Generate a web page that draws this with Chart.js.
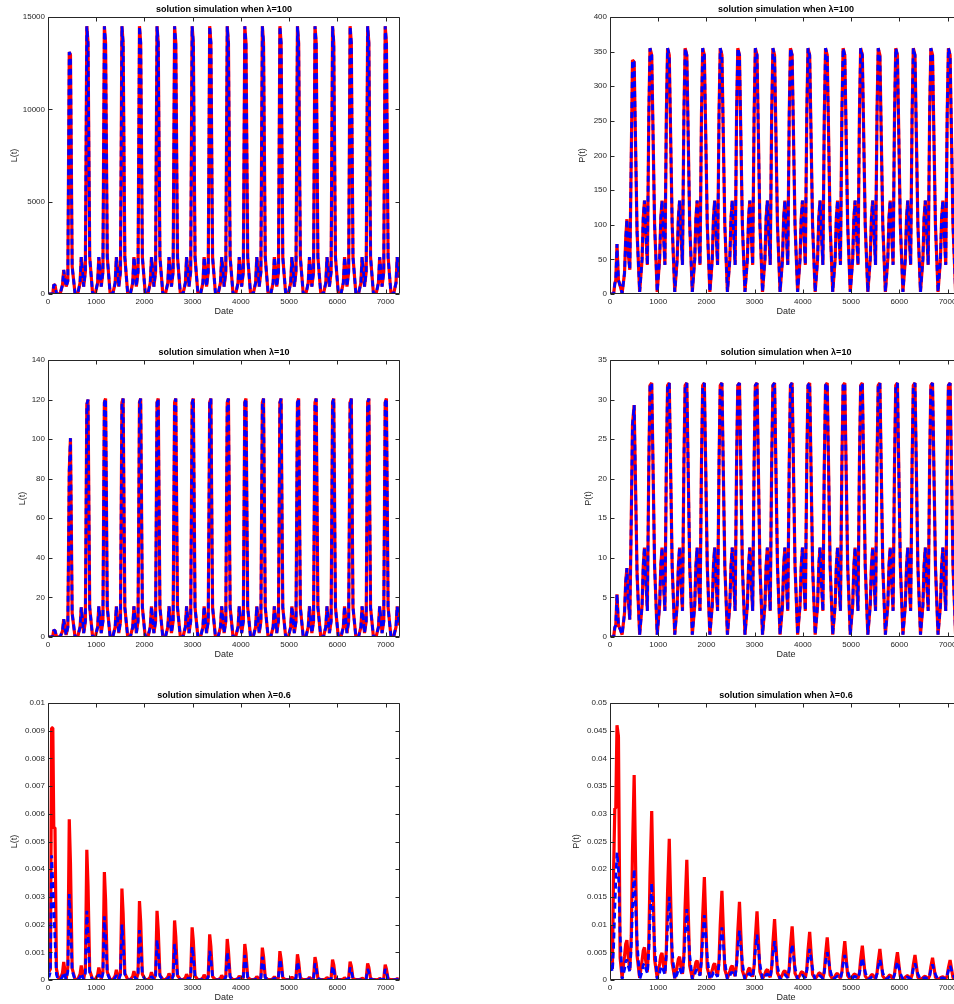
<!DOCTYPE html>
<html>
<head>
<meta charset="utf-8">
<script src="https://cdn.jsdelivr.net/npm/chart.js@4.4.1/dist/chart.umd.min.js"></script>
<style>
  html, body { margin: 0; padding: 0; width: 954px; height: 1004px; overflow: hidden; background: #fff; }
  .panel { position: absolute; width: 420px; height: 320px; }
</style>
</head>
<body>
<div class="panel" style="left:0;top:0"><canvas id="c1" width="420" height="320"></canvas></div>
<div class="panel" style="left:560px;top:0"><canvas id="c2" width="420" height="320"></canvas></div>
<div class="panel" style="left:0;top:343px"><canvas id="c3" width="420" height="320"></canvas></div>
<div class="panel" style="left:560px;top:343px"><canvas id="c4" width="420" height="320"></canvas></div>
<div class="panel" style="left:0;top:686px"><canvas id="c5" width="420" height="320"></canvas></div>
<div class="panel" style="left:560px;top:686px"><canvas id="c6" width="420" height="320"></canvas></div>
<script>
const xTicks = [0, 1000, 2000, 3000, 4000, 5000, 6000, 7000];

// key days: start-up, then one row per yearly cycle
const days = [
  0, 20, 50, 75, 100, 120, 145, 175, 210,
  251, 301, 326, 351, 376, 411, 441, 466, 501, 561,
  615, 665, 690, 715, 740, 775, 805, 830, 865, 925,
  979, 1029, 1054, 1079, 1104, 1139, 1169, 1194, 1229, 1289,
  1343, 1393, 1418, 1443, 1468, 1503, 1533, 1558, 1593, 1653,
  1707, 1757, 1782, 1807, 1832, 1867, 1897, 1922, 1957, 2017,
  2071, 2121, 2146, 2171, 2196, 2231, 2261, 2286, 2321, 2381,
  2435, 2485, 2510, 2535, 2560, 2595, 2625, 2650, 2685, 2745,
  2799, 2849, 2874, 2899, 2924, 2959, 2989, 3014, 3049, 3109,
  3163, 3213, 3238, 3263, 3288, 3323, 3353, 3378, 3413, 3473,
  3527, 3577, 3602, 3627, 3652, 3687, 3717, 3742, 3777, 3837,
  3891, 3941, 3966, 3991, 4016, 4051, 4081, 4106, 4141, 4201,
  4255, 4305, 4330, 4355, 4380, 4415, 4445, 4470, 4505, 4565,
  4619, 4669, 4694, 4719, 4744, 4779, 4809, 4834, 4869, 4929,
  4983, 5033, 5058, 5083, 5108, 5143, 5173, 5198, 5233, 5293,
  5347, 5397, 5422, 5447, 5472, 5507, 5537, 5562, 5597, 5657,
  5711, 5761, 5786, 5811, 5836, 5871, 5901, 5926, 5961, 6021,
  6075, 6125, 6150, 6175, 6200, 6235, 6265, 6290, 6325, 6385,
  6439, 6489, 6514, 6539, 6564, 6599, 6629, 6654, 6689, 6749,
  6803, 6853, 6878, 6903, 6928, 6963, 6993, 7018, 7053, 7113,
  7167, 7217, 7242, 7267, 7292, 7327
];

// lambda = 100 (red and blue overlap)
const L100 = [
  0, 0, 0, 0, 20, 500, 480, 30, 0,
  0, 500, 1300, 800, 400, 700, 13100, 12950, 1500, 20,
  0, 600, 2000, 1300, 400, 1200, 14500, 13600, 2000, 20,
  0, 600, 2000, 1300, 400, 1200, 14500, 13600, 2000, 20,
  0, 600, 2000, 1300, 400, 1200, 14500, 13600, 2000, 20,
  0, 600, 2000, 1300, 400, 1200, 14500, 13600, 2000, 20,
  0, 600, 2000, 1300, 400, 1200, 14500, 13600, 2000, 20,
  0, 600, 2000, 1300, 400, 1200, 14500, 13600, 2000, 20,
  0, 600, 2000, 1300, 400, 1200, 14500, 13600, 2000, 20,
  0, 600, 2000, 1300, 400, 1200, 14500, 13600, 2000, 20,
  0, 600, 2000, 1300, 400, 1200, 14500, 13600, 2000, 20,
  0, 600, 2000, 1300, 400, 1200, 14500, 13600, 2000, 20,
  0, 600, 2000, 1300, 400, 1200, 14500, 13600, 2000, 20,
  0, 600, 2000, 1300, 400, 1200, 14500, 13600, 2000, 20,
  0, 600, 2000, 1300, 400, 1200, 14500, 13600, 2000, 20,
  0, 600, 2000, 1300, 400, 1200, 14500, 13600, 2000, 20,
  0, 600, 2000, 1300, 400, 1200, 14500, 13600, 2000, 20,
  0, 600, 2000, 1300, 400, 1200, 14500, 13600, 2000, 20,
  0, 600, 2000, 1300, 400, 1200, 14500, 13600, 2000, 20,
  0, 600, 2000, 1300, 400, 1200, 14500, 13600, 2000, 20,
  0, 600, 2000, 1300, 900, 1500
];
const P100 = [
  0, 0, 0, 0, 15, 20, 72, 20, 12,
  1, 30, 80, 108, 60, 35, 200, 338, 335, 90,
  3, 50, 110, 135, 95, 42, 260, 355, 345, 100,
  3, 50, 110, 135, 95, 42, 260, 355, 345, 100,
  3, 50, 110, 135, 95, 42, 260, 355, 345, 100,
  3, 50, 110, 135, 95, 42, 260, 355, 345, 100,
  3, 50, 110, 135, 95, 42, 260, 355, 345, 100,
  3, 50, 110, 135, 95, 42, 260, 355, 345, 100,
  3, 50, 110, 135, 95, 42, 260, 355, 345, 100,
  3, 50, 110, 135, 95, 42, 260, 355, 345, 100,
  3, 50, 110, 135, 95, 42, 260, 355, 345, 100,
  3, 50, 110, 135, 95, 42, 260, 355, 345, 100,
  3, 50, 110, 135, 95, 42, 260, 355, 345, 100,
  3, 50, 110, 135, 95, 42, 260, 355, 345, 100,
  3, 50, 110, 135, 95, 42, 260, 355, 345, 100,
  3, 50, 110, 135, 95, 42, 260, 355, 345, 100,
  3, 50, 110, 135, 95, 42, 260, 355, 345, 100,
  3, 50, 110, 135, 95, 42, 260, 355, 345, 100,
  3, 50, 110, 135, 95, 42, 260, 355, 345, 100,
  3, 50, 110, 135, 95, 42, 260, 355, 345, 100,
  3, 50, 110, 135, 95, 42
];

// lambda = 10 (red and blue overlap)
const L10 = [
  0, 0, 0, 0, 0.5, 3.5, 3.2, 0.3, 0,
  0, 3, 9, 5, 1, 5, 84, 100.5, 12, 0,
  0, 5, 15, 9, 2, 8, 117.5, 120, 15, 0,
  0, 5, 15.5, 9, 2, 8, 118.5, 120.5, 15, 0,
  0, 5, 15.5, 9, 2, 8, 118.5, 120.5, 15, 0,
  0, 5, 15.5, 9, 2, 8, 118.5, 120.5, 15, 0,
  0, 5, 15.5, 9, 2, 8, 118.5, 120.5, 15, 0,
  0, 5, 15.5, 9, 2, 8, 118.5, 120.5, 15, 0,
  0, 5, 15.5, 9, 2, 8, 118.5, 120.5, 15, 0,
  0, 5, 15.5, 9, 2, 8, 118.5, 120.5, 15, 0,
  0, 5, 15.5, 9, 2, 8, 118.5, 120.5, 15, 0,
  0, 5, 15.5, 9, 2, 8, 118.5, 120.5, 15, 0,
  0, 5, 15.5, 9, 2, 8, 118.5, 120.5, 15, 0,
  0, 5, 15.5, 9, 2, 8, 118.5, 120.5, 15, 0,
  0, 5, 15.5, 9, 2, 8, 118.5, 120.5, 15, 0,
  0, 5, 15.5, 9, 2, 8, 118.5, 120.5, 15, 0,
  0, 5, 15.5, 9, 2, 8, 118.5, 120.5, 15, 0,
  0, 5, 15.5, 9, 2, 8, 118.5, 120.5, 15, 0,
  0, 5, 15.5, 9, 2, 8, 118.5, 120.5, 15, 0,
  0, 5, 15.5, 9, 2, 8, 118.5, 120.5, 15, 0,
  0, 5, 15.5, 9, 6, 8
];
const P10 = [
  0, 0, 0, 0, 1.2, 1.5, 5.4, 1.5, 1,
  0.3, 3, 7, 8.7, 5, 2.2, 15, 26.8, 29.3, 8,
  0.3, 4, 9, 11.3, 7.5, 3.3, 22, 31.8, 32.1, 9,
  0.3, 4, 9, 11.3, 7.5, 3.3, 22, 31.8, 32.1, 9,
  0.3, 4, 9, 11.3, 7.5, 3.3, 22, 31.8, 32.1, 9,
  0.3, 4, 9, 11.3, 7.5, 3.3, 22, 31.8, 32.1, 9,
  0.3, 4, 9, 11.3, 7.5, 3.3, 22, 31.8, 32.1, 9,
  0.3, 4, 9, 11.3, 7.5, 3.3, 22, 31.8, 32.1, 9,
  0.3, 4, 9, 11.3, 7.5, 3.3, 22, 31.8, 32.1, 9,
  0.3, 4, 9, 11.3, 7.5, 3.3, 22, 31.8, 32.1, 9,
  0.3, 4, 9, 11.3, 7.5, 3.3, 22, 31.8, 32.1, 9,
  0.3, 4, 9, 11.3, 7.5, 3.3, 22, 31.8, 32.1, 9,
  0.3, 4, 9, 11.3, 7.5, 3.3, 22, 31.8, 32.1, 9,
  0.3, 4, 9, 11.3, 7.5, 3.3, 22, 31.8, 32.1, 9,
  0.3, 4, 9, 11.3, 7.5, 3.3, 22, 31.8, 32.1, 9,
  0.3, 4, 9, 11.3, 7.5, 3.3, 22, 31.8, 32.1, 9,
  0.3, 4, 9, 11.3, 7.5, 3.3, 22, 31.8, 32.1, 9,
  0.3, 4, 9, 11.3, 7.5, 3.3, 22, 31.8, 32.1, 9,
  0.3, 4, 9, 11.3, 7.5, 3.3, 22, 31.8, 32.1, 9,
  0.3, 4, 9, 11.3, 7.5, 3.3, 22, 31.8, 32.1, 9,
  0.3, 4, 9, 11.3, 7.5, 3.3
];

// lambda = 0.6, red (solid) and blue (dashed) differ
const L06red = [
  0.001, 0.0003, 0.0004, 0.0091, 0.0091, 0.0055, 0.0055, 0.0004, 0.0001,
  0.00001, 0.00026, 0.00065, 0.00033, 0.00003, 0.00046, 0.0058, 0.0042, 0.00042, 0.00002,
  0.00001, 0.00021, 0.00052, 0.00026, 0.00003, 0.00038, 0.0047, 0.0034, 0.00034, 0.00002,
  0.00001, 0.00018, 0.00045, 0.00023, 0.00003, 0.00031, 0.0039, 0.0029, 0.00029, 0.00002,
  0.00001, 0.00015, 0.00037, 0.00019, 0.00003, 0.00026, 0.0033, 0.0024, 0.00024, 0.00002,
  0.00001, 0.00013, 0.00032, 0.00016, 0.00003, 0.00023, 0.00285, 0.0021, 0.00021, 0.00002,
  0.00001, 0.00011, 0.00028, 0.00014, 0.00003, 0.0002, 0.0025, 0.0018, 0.00018, 0.00002,
  0.00001, 0.0001, 0.00024, 0.00012, 0.00003, 0.00017, 0.00215, 0.00157, 0.00016, 0.00002,
  0.00001, 0.00008, 0.00021, 0.00011, 0.00002, 0.00015, 0.0019, 0.0014, 0.00014, 0.00001,
  0.00001, 0.00008, 0.00019, 0.0001, 0.00002, 0.00013, 0.00165, 0.0012, 0.00012, 0.00001,
  0.00001, 0.00007, 0.00017, 0.00009, 0.00002, 0.00012, 0.00148, 0.00105, 0.00011, 0.00001,
  0.00001, 0.00006, 0.00015, 0.00008, 0.00002, 0.0001, 0.0013, 0.00095, 0.0001, 0.00001,
  0.00001, 0.00005, 0.00013, 0.00007, 0.00002, 0.00009, 0.00117, 0.00085, 0.00009, 0.00001,
  0.00001, 0.00005, 0.00012, 0.00006, 0.00002, 0.00008, 0.00104, 0.00075, 0.00008, 0.00001,
  0.00001, 0.00004, 0.00011, 0.00006, 0.00002, 0.00007, 0.00093, 0.00066, 0.00007, 0.00001,
  0.00001, 0.00004, 0.0001, 0.00005, 0.00002, 0.00007, 0.00083, 0.0006, 0.00006, 0.00001,
  0.00001, 0.00004, 0.00009, 0.00005, 0.00002, 0.00006, 0.00074, 0.00055, 0.00006, 0.00001,
  0.00001, 0.00003, 0.00008, 0.00004, 0.00002, 0.00005, 0.00066, 0.0005, 0.00005, 0.00001,
  0.00001, 0.00003, 0.00007, 0.00004, 0.00002, 0.00005, 0.0006, 0.00045, 0.00005, 0.00001,
  0.00001, 0.00002, 0.00006, 0.00003, 0.00001, 0.00004, 0.00055, 0.0004, 0.00004, 0.00001,
  0.00001, 0.00002, 0.00005, 0.00003, 0.00001, 0.00003
];
const L06blue = [
  0.0005, 0.0001, 0.0003, 0.0045, 0.0035, 0.0026, 0.0015, 0.0002, 0.00002,
  0, 0.00011, 0.00028, 0.00017, 0.00002, 0.00031, 0.0031, 0.0022, 0.00033, 0,
  0, 0.0001, 0.00024, 0.00014, 0.00002, 0.00025, 0.0025, 0.0017, 0.00026, 0,
  0, 0.00008, 0.0002, 0.00012, 0.00002, 0.00023, 0.0023, 0.0016, 0.00024, 0,
  0, 0.00007, 0.00017, 0.0001, 0.00002, 0.0002, 0.002, 0.0014, 0.00021, 0,
  0, 0.00006, 0.00015, 0.00009, 0.00002, 0.00018, 0.0018, 0.0013, 0.0002, 0,
  0, 0.00005, 0.00013, 0.00008, 0.00001, 0.00015, 0.00145, 0.001, 0.00015, 0,
  0, 0.00004, 0.00011, 0.00007, 0.00001, 0.00013, 0.0013, 0.0009, 0.00014, 0,
  0, 0.00004, 0.0001, 0.00006, 0.00001, 0.00012, 0.0012, 0.00085, 0.00013, 0,
  0, 0.00004, 0.00009, 0.00005, 0.00001, 0.0001, 0.00105, 0.00075, 0.00011, 0,
  0, 0.00003, 0.00008, 0.00005, 0.00001, 0.0001, 0.001, 0.0007, 0.00011, 0,
  0, 0.00003, 0.00007, 0.00004, 0.00001, 0.00009, 0.0009, 0.00063, 0.0001, 0,
  0, 0.00002, 0.00006, 0.00004, 0.00001, 0.00008, 0.00084, 0.0006, 0.00009, 0,
  0, 0.00002, 0.00006, 0.00004, 0.00001, 0.00008, 0.00075, 0.00053, 0.00008, 0,
  0, 0.00002, 0.00005, 0.00003, 0.00001, 0.00007, 0.00066, 0.00047, 0.00007, 0,
  0, 0.00002, 0.00005, 0.00003, 0.00001, 0.00006, 0.0006, 0.00042, 0.00006, 0,
  0, 0.00002, 0.00004, 0.00002, 0.00001, 0.00005, 0.0005, 0.00036, 0.00005, 0,
  0, 0.00002, 0.00004, 0.00002, 0.00001, 0.00005, 0.00045, 0.00032, 0.00005, 0,
  0, 0.00001, 0.00003, 0.00002, 0.00001, 0.00004, 0.0004, 0.00028, 0.00004, 0,
  0, 0.00001, 0.00003, 0.00002, 0.00001, 0.00004, 0.0004, 0.00028, 0.00004, 0,
  0, 0.00001, 0.00003, 0.00002, 0.00001, 0.00001
];
const P06red = [
  0.0098, 0.004, 0.002, 0.02, 0.031, 0.031, 0.046, 0.044, 0.004,
  0.0004, 0.0043, 0.0065, 0.0072, 0.0043, 0.0018, 0.008, 0.023, 0.037, 0.0044,
  0.0004, 0.0035, 0.0053, 0.0059, 0.0035, 0.0015, 0.0067, 0.019, 0.0305, 0.0037,
  0.0004, 0.0029, 0.0044, 0.0049, 0.0029, 0.0012, 0.0056, 0.016, 0.0255, 0.0031,
  0.0003, 0.0025, 0.0038, 0.0042, 0.0025, 0.0011, 0.0047, 0.0133, 0.0217, 0.0026,
  0.0003, 0.0021, 0.0032, 0.0035, 0.0021, 0.0009, 0.004, 0.0115, 0.0186, 0.0022,
  0.0003, 0.0018, 0.0027, 0.003, 0.0018, 0.0008, 0.0035, 0.0099, 0.0161, 0.0019,
  0.0003, 0.0016, 0.0023, 0.0026, 0.0016, 0.0007, 0.003, 0.0087, 0.0141, 0.0017,
  0.0002, 0.0013, 0.002, 0.0022, 0.0013, 0.0006, 0.0026, 0.0075, 0.0124, 0.0015,
  0.0002, 0.0011, 0.0017, 0.0019, 0.0011, 0.0005, 0.0023, 0.0066, 0.011, 0.0013,
  0.0002, 0.001, 0.0015, 0.0017, 0.001, 0.0004, 0.0021, 0.006, 0.0097, 0.0012,
  0.0002, 0.0009, 0.0014, 0.0015, 0.0009, 0.0004, 0.0019, 0.0053, 0.0087, 0.001,
  0.0002, 0.0008, 0.0012, 0.0013, 0.0008, 0.0003, 0.0016, 0.0046, 0.0077, 0.0009,
  0.0001, 0.0007, 0.0011, 0.0012, 0.0007, 0.0003, 0.0014, 0.0041, 0.007, 0.0008,
  0.0001, 0.0007, 0.001, 0.0011, 0.0007, 0.0003, 0.0013, 0.0037, 0.0062, 0.0007,
  0.0001, 0.0006, 0.0009, 0.001, 0.0006, 0.0003, 0.0012, 0.0033, 0.0056, 0.0007,
  0.0001, 0.0005, 0.0008, 0.0009, 0.0005, 0.0002, 0.0011, 0.003, 0.005, 0.0006,
  0.0001, 0.0005, 0.0007, 0.0008, 0.0005, 0.0002, 0.0009, 0.0027, 0.0045, 0.0005,
  0.0001, 0.0004, 0.0006, 0.0007, 0.0004, 0.0002, 0.0008, 0.0024, 0.004, 0.0005,
  0.0001, 0.0004, 0.0005, 0.0006, 0.0004, 0.0002, 0.0008, 0.0022, 0.0036, 0.0004,
  0.0001, 0.0003, 0.0005, 0.0005, 0.0003, 0.0001
];
const P06blue = [
  0.0045, 0.0025, 0.0015, 0.006, 0.013, 0.018, 0.023, 0.02, 0.008,
  0.0001, 0.0019, 0.0033, 0.0037, 0.0026, 0.0015, 0.006, 0.013, 0.02, 0.007,
  0.0001, 0.0015, 0.0027, 0.003, 0.0021, 0.0012, 0.0053, 0.0114, 0.0175, 0.0061,
  0.0001, 0.0013, 0.0023, 0.0025, 0.0018, 0.001, 0.0045, 0.0098, 0.015, 0.0053,
  0.0001, 0.0011, 0.002, 0.0022, 0.0015, 0.0009, 0.0038, 0.0083, 0.0128, 0.0045,
  0.0001, 0.001, 0.0017, 0.0019, 0.0013, 0.0008, 0.0035, 0.0076, 0.0117, 0.0041,
  0.0001, 0.0008, 0.0014, 0.0016, 0.0011, 0.0006, 0.0029, 0.0062, 0.0095, 0.0033,
  0.0001, 0.0007, 0.0013, 0.0014, 0.001, 0.0006, 0.0027, 0.0058, 0.0089, 0.0031,
  0.0001, 0.0006, 0.0011, 0.0012, 0.0008, 0.0005, 0.0025, 0.0053, 0.0082, 0.0029,
  0.0001, 0.0006, 0.001, 0.0011, 0.0008, 0.0004, 0.0021, 0.0046, 0.007, 0.0025,
  0.0001, 0.0005, 0.0009, 0.001, 0.0007, 0.0004, 0.0019, 0.0042, 0.0064, 0.0022,
  0.0001, 0.0005, 0.0008, 0.0009, 0.0006, 0.0004, 0.0017, 0.0036, 0.0056, 0.002,
  0.0001, 0.0004, 0.0007, 0.0008, 0.0006, 0.0003, 0.0015, 0.0033, 0.005, 0.0018,
  0.0001, 0.0004, 0.0006, 0.0007, 0.0005, 0.0003, 0.0014, 0.0029, 0.0045, 0.0016,
  0.0001, 0.0003, 0.0006, 0.00065, 0.0005, 0.0003, 0.0012, 0.0026, 0.004, 0.0014,
  0.0001, 0.0003, 0.0005, 0.0006, 0.0004, 0.0002, 0.0011, 0.0024, 0.0037, 0.0013,
  0.0001, 0.0003, 0.0005, 0.00055, 0.0004, 0.0002, 0.001, 0.0021, 0.0033, 0.0012,
  0.0001, 0.0003, 0.0005, 0.0005, 0.0004, 0.0002, 0.0009, 0.002, 0.003, 0.0011,
  0.0001, 0.0002, 0.0004, 0.00045, 0.0003, 0.0002, 0.0008, 0.0018, 0.0028, 0.001,
  0.0001, 0.0002, 0.0004, 0.0004, 0.0003, 0.0002, 0.0008, 0.0017, 0.0026, 0.0009,
  0.0001, 0.0002, 0.0003, 0.00035, 0.0002, 0.0001
];

const FONT = '"Liberation Sans", Arial, Helvetica, sans-serif';
const INK = '#262626';
const PLOT_W = 352;

const pts = vals => days.map((d, i) => ({ x: d, y: vals[i] }));
const fmt = v => String(+Number(v).toFixed(6));

// MATLAB-style box with inward ticks on all four sides
const boxTicks = {
  id: 'boxTicks',
  afterDatasetsDraw(chart) {
    const { ctx, chartArea: a, scales: { x, y } } = chart;
    const L = Math.round(a.left) + 0.5, R = Math.round(a.right) - 0.5;
    const T = Math.round(a.top) + 0.5, B = Math.round(a.bottom) - 0.5;
    ctx.save();
    ctx.strokeStyle = INK;
    ctx.lineWidth = 1;
    ctx.beginPath();
    x.ticks.forEach(t => {
      const px = Math.round(x.getPixelForValue(t.value)) + 0.5;
      ctx.moveTo(px, B); ctx.lineTo(px, B - 4);
      ctx.moveTo(px, T); ctx.lineTo(px, T + 4);
    });
    y.ticks.forEach(t => {
      const py = Math.round(y.getPixelForValue(t.value)) + 0.5;
      ctx.moveTo(L, py); ctx.lineTo(L + 4, py);
      ctx.moveTo(R, py); ctx.lineTo(R - 4, py);
    });
    ctx.rect(L, T, R - L, B - T);
    ctx.stroke();
    ctx.restore();
  }
};

function panel(id, title, yLabel, yMax, yStep, yTitleX, axisW, red, blue) {
  new Chart(document.getElementById(id), {
    type: 'line',
    data: {
      datasets: [
        { data: pts(blue), borderColor: '#0000ff', borderWidth: 2.8, borderDash: [6, 4], order: 0 },
        { data: pts(red), borderColor: '#ff0000', borderWidth: 3.2, order: 1 }
      ]
    },
    options: {
      responsive: false,
      animation: false,
      events: [],
      elements: {
        point: { radius: 0 },
        line: { tension: 0, fill: false, borderJoinStyle: 'bevel', borderCapStyle: 'butt' }
      },
      layout: { padding: { left: 0, right: 420 - axisW - PLOT_W, top: 0, bottom: 0 } },
      plugins: {
        legend: { display: false },
        tooltip: { enabled: false },
        title: {
          display: true, text: title, fullSize: false, color: '#000',
          font: { family: FONT, size: 9, weight: 'bold' },
          padding: { top: 4, bottom: 2.2 }
        }
      },
      scales: {
        x: {
          type: 'linear', min: 0, max: 7300,
          grid: { display: false, drawTicks: false },
          border: { display: false },
          afterBuildTicks: s => { s.ticks = xTicks.map(v => ({ value: v })); },
          ticks: {
            maxRotation: 0, autoSkip: false,
            color: INK, font: { family: FONT, size: 8 }, padding: 3, callback: fmt
          },
          title: { display: true, text: 'Date', color: INK, font: { family: FONT, size: 9 }, padding: { top: 0, bottom: 2.6 } },
          afterFit: s => { s.height = 26; }
        },
        y: {
          type: 'linear', min: 0, max: yMax,
          grid: { display: false, drawTicks: false },
          border: { display: false },
          ticks: {
            stepSize: yStep, includeBounds: false, autoSkip: false,
            color: INK, font: { family: FONT, size: 8 }, padding: 3, callback: fmt
          },
          title: { display: true, text: yLabel, color: INK, font: { family: FONT, size: 9 }, padding: { top: yTitleX - 5.4, bottom: 0 } },
          afterFit: s => { s.width = axisW; }
        }
      }
    },
    plugins: [boxTicks]
  });
}

panel('c1', 'solution simulation when λ=100', 'L(t)', 15000, 5000, 15, 48, L100, L100);
panel('c2', 'solution simulation when λ=100', 'P(t)', 400, 50, 23, 50, P100, P100);
panel('c3', 'solution simulation when λ=10', 'L(t)', 140, 20, 23, 48, L10, L10);
panel('c4', 'solution simulation when λ=10', 'P(t)', 35, 5, 29, 50, P10, P10);
panel('c5', 'solution simulation when λ=0.6', 'L(t)', 0.01, 0.001, 15, 48, L06red, L06blue);
panel('c6', 'solution simulation when λ=0.6', 'P(t)', 0.05, 0.005, 17, 50, P06red, P06blue);
</script>
</body>
</html>
